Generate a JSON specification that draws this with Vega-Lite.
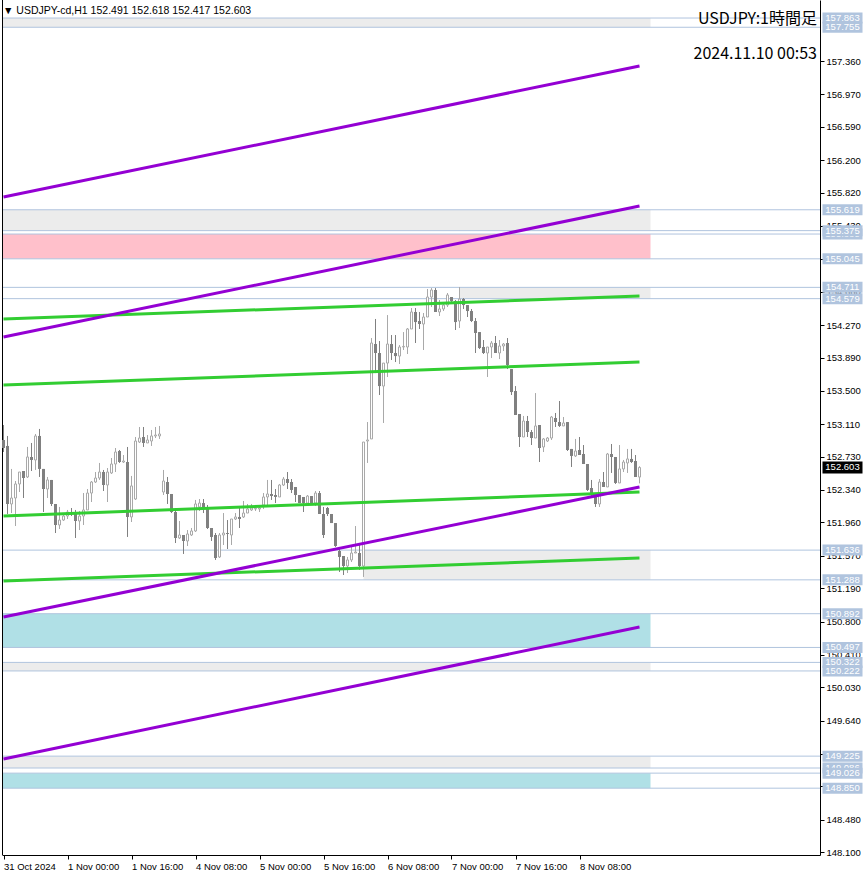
{
 "$schema": "https://vega.github.io/schema/vega-lite/v6.json",
 "width": 818,
 "height": 855,
 "autosize": {"type": "none"},
 "padding": {"left": 2, "top": 0, "right": 46, "bottom": 21},
 "background": "white",
 "config": {"view": {"stroke": null}, "font": "Liberation Sans"},
 "datasets": {
  "zones": [
   {"x1": -0.375, "x2": 161.75, "lo": 157.755, "hi": 157.863, "kind": "gray"},
   {"x1": -0.375, "x2": 161.75, "lo": 155.375, "hi": 155.619, "kind": "gray"},
   {"x1": -0.375, "x2": 161.75, "lo": 155.045, "hi": 155.335, "kind": "pink"},
   {"x1": 114, "x2": 161.75, "lo": 154.579, "hi": 154.711, "kind": "gray"},
   {"x1": 90, "x2": 161.75, "lo": 151.288, "hi": 151.636, "kind": "gray"},
   {"x1": -0.375, "x2": 161.75, "lo": 150.497, "hi": 150.892, "kind": "blue"},
   {"x1": -0.375, "x2": 161.75, "lo": 150.222, "hi": 150.322, "kind": "gray"},
   {"x1": -0.375, "x2": 161.75, "lo": 149.086, "hi": 149.225, "kind": "gray"},
   {"x1": -0.375, "x2": 161.75, "lo": 148.85, "hi": 149.026, "kind": "blue"}
  ],
  "levels": [
   {"p": 157.863}, {"p": 157.755}, {"p": 155.619}, {"p": 155.335}, {"p": 155.375}, {"p": 155.045},
   {"p": 154.711}, {"p": 154.579}, {"p": 151.636}, {"p": 151.288}, {"p": 150.892}, {"p": 150.497},
   {"p": 150.222}, {"p": 150.322}, {"p": 149.225}, {"p": 149.086}, {"p": 149.026}, {"p": 148.85}
  ],
  "trends": [
   {"id": "p1", "kind": "purple", "i": 0, "p": 155.768}, {"id": "p1", "kind": "purple", "i": 159, "p": 157.302},
   {"id": "p2", "kind": "purple", "i": 0, "p": 154.13}, {"id": "p2", "kind": "purple", "i": 159, "p": 155.663},
   {"id": "p3", "kind": "purple", "i": 0, "p": 150.853}, {"id": "p3", "kind": "purple", "i": 159, "p": 152.375},
   {"id": "p4", "kind": "purple", "i": 0, "p": 149.192}, {"id": "p4", "kind": "purple", "i": 159, "p": 150.736},
   {"id": "g1", "kind": "green", "i": 0, "p": 154.341}, {"id": "g1", "kind": "green", "i": 159, "p": 154.61},
   {"id": "g2", "kind": "green", "i": 0, "p": 153.568}, {"id": "g2", "kind": "green", "i": 159, "p": 153.837},
   {"id": "g3", "kind": "green", "i": 0, "p": 152.035}, {"id": "g3", "kind": "green", "i": 159, "p": 152.316},
   {"id": "g4", "kind": "green", "i": 0, "p": 151.275}, {"id": "g4", "kind": "green", "i": 159, "p": 151.544}
  ],
  "last": [{"p": 152.603}],
  "candles": [
   {"i":0,"o":152.925,"h":153.100,"l":152.784,"c":152.831},
   {"i":1,"o":152.855,"h":152.972,"l":152.059,"c":152.176},
   {"i":2,"o":152.176,"h":152.586,"l":152.070,"c":152.246},
   {"i":3,"o":152.246,"h":152.445,"l":151.918,"c":152.410},
   {"i":4,"o":152.410,"h":152.550,"l":152.316,"c":152.550},
   {"i":5,"o":152.562,"h":152.562,"l":152.246,"c":152.480},
   {"i":6,"o":152.492,"h":152.843,"l":152.480,"c":152.726},
   {"i":7,"o":152.726,"h":152.890,"l":152.562,"c":152.691},
   {"i":8,"o":152.691,"h":152.995,"l":152.574,"c":152.972},
   {"i":9,"o":152.972,"h":153.054,"l":152.492,"c":152.586},
   {"i":10,"o":152.586,"h":152.586,"l":152.082,"c":152.351},
   {"i":11,"o":152.351,"h":152.492,"l":152.246,"c":152.457},
   {"i":12,"o":152.457,"h":152.457,"l":152.152,"c":152.176},
   {"i":13,"o":152.176,"h":152.176,"l":151.836,"c":151.930},
   {"i":14,"o":151.930,"h":152.141,"l":151.883,"c":151.988},
   {"i":15,"o":151.988,"h":152.070,"l":151.977,"c":152.035},
   {"i":16,"o":152.035,"h":152.106,"l":152.000,"c":152.082},
   {"i":17,"o":152.082,"h":152.129,"l":152.035,"c":152.070},
   {"i":18,"o":152.070,"h":152.106,"l":151.778,"c":151.977},
   {"i":19,"o":151.977,"h":152.094,"l":151.871,"c":152.035},
   {"i":20,"o":152.035,"h":152.304,"l":151.930,"c":152.106},
   {"i":21,"o":152.106,"h":152.351,"l":152.106,"c":152.304},
   {"i":22,"o":152.304,"h":152.445,"l":152.199,"c":152.433},
   {"i":23,"o":152.433,"h":152.550,"l":152.422,"c":152.480},
   {"i":24,"o":152.480,"h":152.656,"l":152.457,"c":152.550},
   {"i":25,"o":152.550,"h":152.574,"l":152.328,"c":152.398},
   {"i":26,"o":152.398,"h":152.597,"l":152.199,"c":152.550},
   {"i":27,"o":152.539,"h":152.714,"l":152.527,"c":152.644},
   {"i":28,"o":152.644,"h":152.831,"l":152.550,"c":152.784},
   {"i":29,"o":152.796,"h":152.808,"l":152.656,"c":152.667},
   {"i":30,"o":152.667,"h":152.749,"l":152.656,"c":152.679},
   {"i":31,"o":152.667,"h":152.843,"l":151.790,"c":152.024},
   {"i":32,"o":152.024,"h":152.504,"l":151.965,"c":152.387},
   {"i":33,"o":152.234,"h":152.960,"l":152.223,"c":152.913},
   {"i":34,"o":152.901,"h":153.077,"l":152.890,"c":152.948},
   {"i":35,"o":152.960,"h":153.077,"l":152.843,"c":152.890},
   {"i":36,"o":152.890,"h":152.983,"l":152.890,"c":152.925},
   {"i":37,"o":152.913,"h":153.042,"l":152.855,"c":152.972},
   {"i":38,"o":152.972,"h":153.077,"l":152.948,"c":152.983},
   {"i":39,"o":152.972,"h":153.089,"l":152.937,"c":152.995},
   {"i":40,"o":152.316,"h":152.574,"l":152.281,"c":152.445},
   {"i":41,"o":152.433,"h":152.492,"l":152.176,"c":152.293},
   {"i":42,"o":152.293,"h":152.293,"l":152.070,"c":152.082},
   {"i":43,"o":152.082,"h":152.129,"l":151.719,"c":151.778},
   {"i":44,"o":151.778,"h":151.977,"l":151.766,"c":151.813},
   {"i":45,"o":151.813,"h":151.813,"l":151.591,"c":151.743},
   {"i":46,"o":151.743,"h":151.871,"l":151.684,"c":151.825},
   {"i":47,"o":151.813,"h":151.895,"l":151.801,"c":151.860},
   {"i":48,"o":151.860,"h":152.223,"l":151.848,"c":152.176},
   {"i":49,"o":152.141,"h":152.234,"l":152.094,"c":152.187},
   {"i":50,"o":152.187,"h":152.234,"l":152.070,"c":152.117},
   {"i":51,"o":152.117,"h":152.164,"l":151.883,"c":151.895},
   {"i":52,"o":151.895,"h":151.895,"l":151.743,"c":151.790},
   {"i":53,"o":151.813,"h":151.836,"l":151.521,"c":151.544},
   {"i":54,"o":151.556,"h":151.836,"l":151.544,"c":151.813},
   {"i":55,"o":151.813,"h":152.070,"l":151.696,"c":151.836},
   {"i":56,"o":151.836,"h":151.988,"l":151.649,"c":151.825},
   {"i":57,"o":151.813,"h":152.000,"l":151.696,"c":152.000},
   {"i":58,"o":152.000,"h":152.070,"l":151.988,"c":152.024},
   {"i":59,"o":152.024,"h":152.129,"l":151.895,"c":152.000},
   {"i":60,"o":152.024,"h":152.211,"l":152.012,"c":152.070},
   {"i":61,"o":152.070,"h":152.176,"l":152.070,"c":152.117},
   {"i":62,"o":152.106,"h":152.176,"l":152.094,"c":152.129},
   {"i":63,"o":152.117,"h":152.164,"l":152.094,"c":152.125},
   {"i":64,"o":152.117,"h":152.164,"l":152.082,"c":152.129},
   {"i":65,"o":152.164,"h":152.304,"l":152.117,"c":152.258},
   {"i":66,"o":152.258,"h":152.457,"l":152.141,"c":152.293},
   {"i":67,"o":152.293,"h":152.457,"l":152.223,"c":152.269},
   {"i":68,"o":152.281,"h":152.351,"l":152.187,"c":152.258},
   {"i":69,"o":152.258,"h":152.410,"l":152.258,"c":152.398},
   {"i":70,"o":152.398,"h":152.492,"l":152.387,"c":152.468},
   {"i":71,"o":152.468,"h":152.550,"l":152.351,"c":152.422},
   {"i":72,"o":152.433,"h":152.468,"l":152.304,"c":152.340},
   {"i":73,"o":152.375,"h":152.375,"l":152.199,"c":152.281},
   {"i":74,"o":152.281,"h":152.281,"l":152.187,"c":152.187},
   {"i":75,"o":152.258,"h":152.258,"l":152.082,"c":152.187},
   {"i":76,"o":152.187,"h":152.281,"l":152.187,"c":152.269},
   {"i":77,"o":152.269,"h":152.269,"l":152.187,"c":152.187},
   {"i":78,"o":152.187,"h":152.328,"l":152.152,"c":152.304},
   {"i":79,"o":152.304,"h":152.328,"l":152.059,"c":152.059},
   {"i":80,"o":152.059,"h":152.141,"l":151.778,"c":151.813},
   {"i":81,"o":152.129,"h":152.141,"l":152.035,"c":152.059},
   {"i":82,"o":152.059,"h":152.059,"l":151.953,"c":151.953},
   {"i":83,"o":151.953,"h":151.953,"l":151.673,"c":151.684},
   {"i":84,"o":151.626,"h":151.673,"l":151.380,"c":151.556},
   {"i":85,"o":151.567,"h":151.567,"l":151.345,"c":151.450},
   {"i":86,"o":151.450,"h":151.556,"l":151.368,"c":151.521},
   {"i":87,"o":151.521,"h":151.673,"l":151.497,"c":151.602},
   {"i":88,"o":151.602,"h":151.918,"l":151.602,"c":151.614},
   {"i":89,"o":151.602,"h":151.719,"l":151.404,"c":151.450},
   {"i":90,"o":151.450,"h":152.901,"l":151.322,"c":152.901},
   {"i":91,"o":152.913,"h":153.135,"l":152.656,"c":152.925},
   {"i":92,"o":152.937,"h":154.118,"l":152.937,"c":154.060},
   {"i":93,"o":154.048,"h":154.341,"l":153.708,"c":153.943},
   {"i":94,"o":153.943,"h":154.083,"l":153.451,"c":153.556},
   {"i":95,"o":153.556,"h":153.825,"l":153.124,"c":153.825},
   {"i":96,"o":153.825,"h":154.387,"l":153.662,"c":154.048},
   {"i":97,"o":154.048,"h":154.153,"l":153.861,"c":153.943},
   {"i":98,"o":153.943,"h":154.153,"l":153.837,"c":153.907},
   {"i":99,"o":153.907,"h":154.036,"l":153.814,"c":154.013},
   {"i":100,"o":154.013,"h":154.188,"l":153.978,"c":154.020},
   {"i":101,"o":154.013,"h":154.235,"l":153.931,"c":154.224},
   {"i":102,"o":154.224,"h":154.469,"l":154.224,"c":154.423},
   {"i":103,"o":154.423,"h":154.469,"l":154.060,"c":154.305},
   {"i":104,"o":154.317,"h":154.423,"l":154.224,"c":154.282},
   {"i":105,"o":154.282,"h":154.411,"l":153.978,"c":154.364},
   {"i":106,"o":154.364,"h":154.692,"l":154.364,"c":154.598},
   {"i":107,"o":154.598,"h":154.703,"l":154.481,"c":154.680},
   {"i":108,"o":154.680,"h":154.703,"l":154.423,"c":154.423},
   {"i":109,"o":154.423,"h":154.563,"l":154.376,"c":154.458},
   {"i":110,"o":154.458,"h":154.540,"l":154.434,"c":154.504},
   {"i":111,"o":154.504,"h":154.645,"l":154.481,"c":154.622},
   {"i":112,"o":154.598,"h":154.598,"l":154.540,"c":154.551},
   {"i":113,"o":154.551,"h":154.563,"l":154.212,"c":154.305},
   {"i":114,"o":154.317,"h":154.715,"l":154.235,"c":154.575},
   {"i":115,"o":154.575,"h":154.586,"l":154.458,"c":154.504},
   {"i":116,"o":154.504,"h":154.504,"l":154.364,"c":154.434},
   {"i":117,"o":154.434,"h":154.458,"l":154.305,"c":154.317},
   {"i":118,"o":154.317,"h":154.352,"l":153.943,"c":154.177},
   {"i":119,"o":154.188,"h":154.188,"l":153.989,"c":154.001},
   {"i":120,"o":154.013,"h":154.095,"l":153.931,"c":153.943},
   {"i":121,"o":153.943,"h":154.013,"l":153.662,"c":154.013},
   {"i":122,"o":154.013,"h":154.083,"l":153.884,"c":154.060},
   {"i":123,"o":154.060,"h":154.142,"l":153.943,"c":153.943},
   {"i":124,"o":153.943,"h":154.095,"l":153.872,"c":154.025},
   {"i":125,"o":154.025,"h":154.060,"l":153.966,"c":154.048},
   {"i":126,"o":154.060,"h":154.118,"l":153.755,"c":153.802},
   {"i":127,"o":153.755,"h":153.755,"l":153.451,"c":153.486},
   {"i":128,"o":153.498,"h":153.556,"l":153.217,"c":153.217},
   {"i":129,"o":153.229,"h":153.229,"l":152.843,"c":152.960},
   {"i":130,"o":152.960,"h":153.206,"l":152.960,"c":153.147},
   {"i":131,"o":153.147,"h":153.206,"l":152.960,"c":153.018},
   {"i":132,"o":153.018,"h":153.042,"l":152.866,"c":152.948},
   {"i":133,"o":152.948,"h":153.474,"l":152.948,"c":153.089},
   {"i":134,"o":153.100,"h":153.100,"l":152.667,"c":152.831},
   {"i":135,"o":152.843,"h":152.948,"l":152.784,"c":152.937},
   {"i":136,"o":152.913,"h":152.960,"l":152.901,"c":152.948},
   {"i":137,"o":152.948,"h":153.206,"l":152.925,"c":153.194},
   {"i":138,"o":153.182,"h":153.241,"l":153.077,"c":153.135},
   {"i":139,"o":153.135,"h":153.381,"l":153.077,"c":153.089},
   {"i":140,"o":153.089,"h":153.194,"l":153.089,"c":153.124},
   {"i":141,"o":153.135,"h":153.135,"l":152.796,"c":152.808},
   {"i":142,"o":152.820,"h":152.820,"l":152.609,"c":152.738},
   {"i":143,"o":152.738,"h":152.937,"l":152.726,"c":152.796},
   {"i":144,"o":152.808,"h":152.960,"l":152.749,"c":152.749},
   {"i":145,"o":152.761,"h":152.866,"l":152.644,"c":152.644},
   {"i":146,"o":152.644,"h":152.644,"l":152.328,"c":152.340},
   {"i":147,"o":152.363,"h":152.457,"l":152.258,"c":152.293},
   {"i":148,"o":152.304,"h":152.304,"l":152.141,"c":152.176},
   {"i":149,"o":152.176,"h":152.468,"l":152.141,"c":152.433},
   {"i":150,"o":152.433,"h":152.550,"l":152.375,"c":152.375},
   {"i":151,"o":152.375,"h":152.773,"l":152.375,"c":152.761},
   {"i":152,"o":152.761,"h":152.878,"l":152.539,"c":152.726},
   {"i":153,"o":152.726,"h":152.726,"l":152.410,"c":152.422},
   {"i":154,"o":152.422,"h":152.866,"l":152.422,"c":152.586},
   {"i":155,"o":152.586,"h":152.691,"l":152.550,"c":152.667},
   {"i":156,"o":152.656,"h":152.820,"l":152.539,"c":152.703},
   {"i":157,"o":152.703,"h":152.820,"l":152.656,"c":152.667},
   {"i":158,"o":152.679,"h":152.749,"l":152.492,"c":152.492},
   {"i":159,"o":152.491,"h":152.618,"l":152.417,"c":152.603}
  ]
 },
 "resolve": {"axis": {"x": "independent", "y": "independent"}},
 "layer": [
  {
   "data": {"name": "zones"},
   "mark": {"type": "rect"},
   "encoding": {
    "x": {"field": "x1", "type": "quantitative", "scale": {"domain": [-0.375, 204.125], "nice": false, "zero": false, "padding": 0}, "axis": null},
    "x2": {"field": "x2"},
    "y": {"field": "lo", "type": "quantitative", "scale": {"domain": [148.068, 158.074], "nice": false, "zero": false, "padding": 0}, "axis": null},
    "y2": {"field": "hi"},
    "color": {"field": "kind", "type": "nominal", "scale": {"domain": ["gray", "pink", "blue"], "range": ["#ececec", "#ffc0cb", "#b0e0e6"]}, "legend": null}
   }
  },
  {
   "data": {"name": "levels"},
   "mark": {"type": "rule", "color": "#b0c4de", "strokeWidth": 1},
   "encoding": {
    "y": {"field": "p", "type": "quantitative", "scale": {"domain": [148.068, 158.074], "nice": false, "zero": false, "padding": 0}, "axis": null}
   }
  },
  {
   "data": {"values": [{"edge": "left"}]},
   "mark": {"type": "rule", "color": "black", "strokeWidth": 1},
   "encoding": {
    "x": {"datum": -0.25, "type": "quantitative", "scale": {"domain": [-0.375, 204.125], "nice": false, "zero": false, "padding": 0}, "axis": null}
   }
  },
  {
   "data": {"name": "candles"},
   "mark": {"type": "rule", "strokeWidth": 1},
   "encoding": {
    "x": {"field": "i", "type": "quantitative", "scale": {"domain": [-0.375, 204.125], "nice": false, "zero": false, "padding": 0},
          "axis": {"orient": "bottom", "values": [0, 16, 32, 48, 64, 80, 96, 112, 128, 144],
                   "labelExpr": "datum.value == 0 ? '31 Oct 2024' : datum.value == 16 ? '1 Nov 00:00' : datum.value == 32 ? '1 Nov 16:00' : datum.value == 48 ? '4 Nov 08:00' : datum.value == 64 ? '5 Nov 00:00' : datum.value == 80 ? '5 Nov 16:00' : datum.value == 96 ? '6 Nov 08:00' : datum.value == 112 ? '7 Nov 00:00' : datum.value == 128 ? '7 Nov 16:00' : '8 Nov 08:00'",
                   "labelAlign": "left", "labelBaseline": "top", "labelPadding": 2, "labelFont": "Liberation Sans", "labelFontSize": 9.5,
                   "labelColor": "black", "tickColor": "black", "tickSize": 4, "domainColor": "black", "grid": false, "title": null,
                   "labelFlush": false, "labelOverlap": false}},
    "y": {"field": "l", "type": "quantitative", "scale": {"domain": [148.068, 158.074], "nice": false, "zero": false, "padding": 0},
          "axis": {"orient": "right", "values": [157.36, 156.97, 156.59, 156.2, 155.82, 155.43, 155.04, 154.66, 154.27, 153.89, 153.5, 153.11, 152.73, 152.34, 151.96, 151.57, 151.19, 150.8, 150.41, 150.03, 149.64, 149.25, 148.87, 148.48, 148.1],
                   "format": ".3f", "labelFont": "Liberation Sans", "labelFontSize": 9.5, "labelColor": "black", "tickColor": "black", "tickSize": 4,
                   "labelPadding": 2, "domainColor": "black", "grid": false, "title": null, "labelFlush": false, "labelOverlap": false}},
    "y2": {"field": "h"},
    "color": {"condition": {"test": "datum.c >= datum.o", "value": "#a9a9a9"}, "value": "#808080"}
   }
  },
  {
   "data": {"name": "candles"},
   "transform": [{"filter": "datum.c >= datum.o"}],
   "mark": {"type": "bar", "width": 2, "fill": "white", "stroke": "#a9a9a9", "strokeWidth": 1},
   "encoding": {
    "x": {"field": "i", "type": "quantitative", "scale": {"domain": [-0.375, 204.125], "nice": false, "zero": false, "padding": 0}, "axis": null},
    "y": {"field": "o", "type": "quantitative", "scale": {"domain": [148.068, 158.074], "nice": false, "zero": false, "padding": 0}, "axis": null},
    "y2": {"field": "c"}
   }
  },
  {
   "data": {"name": "candles"},
   "transform": [{"filter": "datum.c < datum.o"}],
   "mark": {"type": "bar", "width": 3, "fill": "#808080"},
   "encoding": {
    "x": {"field": "i", "type": "quantitative", "scale": {"domain": [-0.375, 204.125], "nice": false, "zero": false, "padding": 0}, "axis": null},
    "y": {"field": "o", "type": "quantitative", "scale": {"domain": [148.068, 158.074], "nice": false, "zero": false, "padding": 0}, "axis": null},
    "y2": {"field": "c"}
   }
  },
  {
   "data": {"name": "trends"},
   "transform": [{"filter": "datum.kind == 'green'"}],
   "mark": {"type": "line", "color": "#32cd32", "strokeWidth": 3},
   "encoding": {
    "x": {"field": "i", "type": "quantitative", "scale": {"domain": [-0.375, 204.125], "nice": false, "zero": false, "padding": 0}, "axis": null},
    "y": {"field": "p", "type": "quantitative", "scale": {"domain": [148.068, 158.074], "nice": false, "zero": false, "padding": 0}, "axis": null},
    "detail": {"field": "id"}
   }
  },
  {
   "data": {"name": "trends"},
   "transform": [{"filter": "datum.kind == 'purple'"}],
   "mark": {"type": "line", "color": "#9400d3", "strokeWidth": 3},
   "encoding": {
    "x": {"field": "i", "type": "quantitative", "scale": {"domain": [-0.375, 204.125], "nice": false, "zero": false, "padding": 0}, "axis": null},
    "y": {"field": "p", "type": "quantitative", "scale": {"domain": [148.068, 158.074], "nice": false, "zero": false, "padding": 0}, "axis": null},
    "detail": {"field": "id"}
   }
  },
  {
   "data": {"name": "levels"},
   "transform": [{"filter": "datum.p == 155.335 || datum.p == 150.222 || datum.p == 149.086"}],
   "mark": {"type": "tick", "orient": "horizontal", "size": 40, "thickness": 11, "color": "#b0c4de", "opacity": 1},
   "encoding": {
    "x": {"datum": 209.75, "type": "quantitative", "scale": {"domain": [-0.375, 204.125], "nice": false, "zero": false, "padding": 0}, "axis": null},
    "y": {"field": "p", "type": "quantitative", "scale": {"domain": [148.068, 158.074], "nice": false, "zero": false, "padding": 0}, "axis": null}
   }
  },
  {
   "data": {"name": "levels"},
   "transform": [{"filter": "datum.p == 155.335 || datum.p == 150.222 || datum.p == 149.086"}],
   "mark": {"type": "text", "color": "white", "font": "Liberation Sans", "fontSize": 9.5, "align": "center", "baseline": "middle"},
   "encoding": {
    "x": {"datum": 209.75, "type": "quantitative", "scale": {"domain": [-0.375, 204.125], "nice": false, "zero": false, "padding": 0}, "axis": null},
    "y": {"field": "p", "type": "quantitative", "scale": {"domain": [148.068, 158.074], "nice": false, "zero": false, "padding": 0}, "axis": null},
    "text": {"field": "p", "type": "quantitative", "format": ".3f"}
   }
  },
  {
   "data": {"name": "levels"},
   "transform": [{"filter": "!(datum.p == 155.335 || datum.p == 150.222 || datum.p == 149.086)"}],
   "mark": {"type": "tick", "orient": "horizontal", "size": 40, "thickness": 11, "color": "#b0c4de", "opacity": 1},
   "encoding": {
    "x": {"datum": 209.75, "type": "quantitative", "scale": {"domain": [-0.375, 204.125], "nice": false, "zero": false, "padding": 0}, "axis": null},
    "y": {"field": "p", "type": "quantitative", "scale": {"domain": [148.068, 158.074], "nice": false, "zero": false, "padding": 0}, "axis": null}
   }
  },
  {
   "data": {"name": "levels"},
   "transform": [{"filter": "!(datum.p == 155.335 || datum.p == 150.222 || datum.p == 149.086)"}],
   "mark": {"type": "text", "color": "white", "font": "Liberation Sans", "fontSize": 9.5, "align": "center", "baseline": "middle"},
   "encoding": {
    "x": {"datum": 209.75, "type": "quantitative", "scale": {"domain": [-0.375, 204.125], "nice": false, "zero": false, "padding": 0}, "axis": null},
    "y": {"field": "p", "type": "quantitative", "scale": {"domain": [148.068, 158.074], "nice": false, "zero": false, "padding": 0}, "axis": null},
    "text": {"field": "p", "type": "quantitative", "format": ".3f"}
   }
  },
  {
   "data": {"name": "last"},
   "mark": {"type": "tick", "orient": "horizontal", "size": 40, "thickness": 12, "color": "black", "opacity": 1},
   "encoding": {
    "x": {"datum": 209.75, "type": "quantitative", "scale": {"domain": [-0.375, 204.125], "nice": false, "zero": false, "padding": 0}, "axis": null},
    "y": {"field": "p", "type": "quantitative", "scale": {"domain": [148.068, 158.074], "nice": false, "zero": false, "padding": 0}, "axis": null}
   }
  },
  {
   "data": {"name": "last"},
   "mark": {"type": "text", "color": "white", "font": "Liberation Sans", "fontSize": 9.5, "align": "center", "baseline": "middle"},
   "encoding": {
    "x": {"datum": 209.75, "type": "quantitative", "scale": {"domain": [-0.375, 204.125], "nice": false, "zero": false, "padding": 0}, "axis": null},
    "y": {"field": "p", "type": "quantitative", "scale": {"domain": [148.068, 158.074], "nice": false, "zero": false, "padding": 0}, "axis": null},
    "text": {"field": "p", "type": "quantitative", "format": ".3f"}
   }
  },
  {
   "data": {"values": [{"t": "▼ USDJPY-cd,H1  152.491 152.618 152.417 152.603"}]},
   "mark": {"type": "text", "color": "black", "font": "Liberation Sans", "fontSize": 10.5, "align": "left", "baseline": "middle"},
   "encoding": {
    "x": {"datum": -0.125, "type": "quantitative", "scale": {"domain": [-0.375, 204.125], "nice": false, "zero": false, "padding": 0}, "axis": null},
    "y": {"datum": 157.951, "type": "quantitative", "scale": {"domain": [148.068, 158.074], "nice": false, "zero": false, "padding": 0}, "axis": null},
    "text": {"field": "t"}
   }
  },
  {
   "data": {"values": [{"t": "USDJPY:1時間足"}]},
   "mark": {"type": "text", "color": "black", "font": "Noto Sans CJK JP", "fontSize": 16, "align": "right", "baseline": "middle"},
   "encoding": {
    "x": {"datum": 203.375, "type": "quantitative", "scale": {"domain": [-0.375, 204.125], "nice": false, "zero": false, "padding": 0}, "axis": null},
    "y": {"datum": 157.846, "type": "quantitative", "scale": {"domain": [148.068, 158.074], "nice": false, "zero": false, "padding": 0}, "axis": null},
    "text": {"field": "t"}
   }
  },
  {
   "data": {"values": [{"t": "2024.11.10 00:53"}]},
   "mark": {"type": "text", "color": "black", "font": "Noto Sans CJK JP", "fontSize": 16, "align": "right", "baseline": "middle"},
   "encoding": {
    "x": {"datum": 203.375, "type": "quantitative", "scale": {"domain": [-0.375, 204.125], "nice": false, "zero": false, "padding": 0}, "axis": null},
    "y": {"datum": 157.442, "type": "quantitative", "scale": {"domain": [148.068, 158.074], "nice": false, "zero": false, "padding": 0}, "axis": null},
    "text": {"field": "t"}
   }
  }
 ]
}
